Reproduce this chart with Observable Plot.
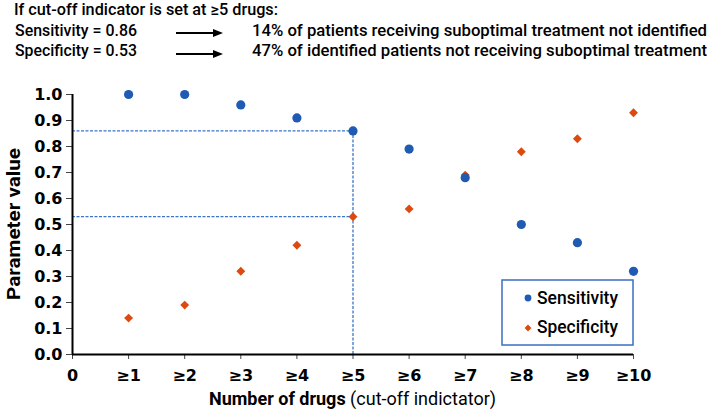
<!DOCTYPE html>
<html>
<head>
<meta charset="utf-8">
<script src="https://cdn.jsdelivr.net/npm/d3@7"></script>
<script src="https://cdn.jsdelivr.net/npm/@observablehq/plot@0.6"></script>
<style>
  html, body { margin: 0; padding: 0; background: #fff; }
  #wrap { width: 708px; height: 410px; position: relative; overflow: hidden; }
  svg { display: block; }
</style>
</head>
<body>
<div id="wrap"></div>
<script>
// ---- data ----
const xLabels = ["0", "≥1", "≥2", "≥3", "≥4", "≥5", "≥6", "≥7", "≥8", "≥9", "≥10"];
const cutoffs = [1, 2, 3, 4, 5, 6, 7, 8, 9, 10];
const sensitivity = [1.00, 1.00, 0.96, 0.91, 0.86, 0.79, 0.68, 0.50, 0.43, 0.32];
const specificity = [0.14, 0.19, 0.32, 0.42, 0.53, 0.56, 0.69, 0.78, 0.83, 0.93];
const yTicks = [0, 0.1, 0.2, 0.3, 0.4, 0.5, 0.6, 0.7, 0.8, 0.9, 1.0];
const xTicks = [0, 1, 2, 3, 4, 5, 6, 7, 8, 9, 10];
const chosenCutoff = 5;
const headerLines = [
  "If cut-off indicator is set at ≥5 drugs:",
  "Sensitivity = 0.86",
  "Specificity = 0.53",
  "14% of patients receiving suboptimal treatment not identified",
  "47% of identified patients not receiving suboptimal treatment"
];
const seriesNames = ["Sensitivity", "Specificity"];
const xTitleBold = "Number of drugs";
const xTitleRest = " (cut-off indictator)";
const yTitle = "Parameter value";

const BLUE = "#1f5bb3";
const ORANGE = "#dc4a0f";
const DASH = "#3c75c6";
const TXT = "Roboto, Lato, 'Open Sans', sans-serif";

const sensData = cutoffs.map((c, i) => ({x: c, y: sensitivity[i]}));
const specData = cutoffs.map((c, i) => ({x: c, y: specificity[i]}));
const ci = cutoffs.indexOf(chosenCutoff);
const hRefs = [
  {x1: 0, x2: chosenCutoff, y: sensitivity[ci]},
  {x1: 0, x2: chosenCutoff, y: specificity[ci]}
];
const vRefs = [{x: chosenCutoff, y1: 0, y2: sensitivity[ci]}];

const wrap = d3.select("#wrap");

// ---- header ----
const hdr = wrap.append("svg").attr("width", 708).attr("height", 66)
  .style("font-family", TXT).style("font-size", "16px").style("font-weight", 500);
function htext(x, y, s, len) {
  hdr.append("text").attr("x", x).attr("y", y).attr("textLength", len)
    .attr("text-anchor", "start")
    .attr("lengthAdjust", "spacingAndGlyphs").attr("fill", "#000").text(s);
}
htext(14, 15, headerLines[0], 264);
htext(15, 36, headerLines[1], 122);
htext(15, 56, headerLines[2], 122);
htext(252, 36, headerLines[3], 455);
htext(252, 56, headerLines[4], 455);
function arrow(y) {
  hdr.append("line").attr("x1", 176).attr("x2", 215).attr("y1", y).attr("y2", y)
    .attr("stroke", "#000").attr("stroke-width", 1.8);
  hdr.append("path").attr("d", `M213,${y - 4}L223,${y}L213,${y + 4}Z`).attr("fill", "#000");
}
arrow(33);
arrow(54);

// ---- chart ----
const chart = Plot.plot({
  width: 708,
  height: 344,
  marginTop: 28,
  marginBottom: 56,
  marginLeft: 72,
  marginRight: 75,
  style: {background: "#fff", color: "#000", overflow: "visible"},
  x: {domain: [0, 10]},
  y: {domain: [0, 1]},
  marks: [
    Plot.ruleY(hRefs, {x1: "x1", x2: "x2", y: "y", stroke: DASH, strokeWidth: 1.3, strokeDasharray: "3,1.5"}),
    Plot.ruleX(vRefs, {x: "x", y1: "y1", y2: "y2", stroke: DASH, strokeWidth: 1.3, strokeDasharray: "3,1.5"}),
    Plot.axisY({ticks: yTicks, tickFormat: d => d.toFixed(1), tickSize: 6, tickPadding: 4,
      fontSize: 16, fontWeight: "bold", fontFamily: "'DejaVu Sans', Verdana, sans-serif",
      label: null, stroke: "#444", fill: "#000"}),
    Plot.axisX({ticks: xTicks, tickFormat: i => xLabels[i], tickSize: 5, tickPadding: 10,
      fontSize: 16, fontWeight: "bold", fontFamily: "'DejaVu Sans', Verdana, sans-serif",
      label: null, stroke: "#444", fill: "#000"}),
    Plot.ruleX([0], {stroke: "#000", strokeWidth: 2}),
    Plot.ruleY([0], {stroke: "#000", strokeWidth: 2}),
    Plot.dot(specData, {x: "x", y: "y", symbol: "diamond2", r: 4, fill: ORANGE, stroke: "none"}),
    Plot.dot(sensData, {x: "x", y: "y", symbol: "circle", r: 4.6, fill: BLUE, stroke: "none"})
  ]
});
wrap.node().appendChild(chart);

const svg = d3.select(chart);
const sx = chart.scale("x"), sy = chart.scale("y");
const xMid = (sx.apply(0) + sx.apply(10)) / 2;
const yMid = (sy.apply(0) + sy.apply(1)) / 2;

// x title (bold + regular)
const xt = svg.append("text").attr("x", xMid).attr("y", 339).attr("text-anchor", "middle")
  .style("font-family", TXT).style("font-size", "18px").attr("fill", "#000");
xt.append("tspan").attr("font-weight", "bold").text(xTitleBold);
xt.append("tspan").attr("font-weight", "normal").text(xTitleRest);

// y title
svg.append("text").attr("transform", `translate(20,${yMid}) rotate(-90)`)
  .attr("text-anchor", "middle").style("font-family", TXT).style("font-size", "19px")
  .attr("font-weight", "bold").attr("fill", "#000")
  .attr("textLength", 152).attr("lengthAdjust", "spacingAndGlyphs").text(yTitle);

// legend
const lg = svg.append("g");
lg.append("rect").attr("x", 502).attr("y", 214).attr("width", 131).attr("height", 65)
  .attr("fill", "#fff").attr("stroke", "#3a6fc2").attr("stroke-width", 1.5);
lg.append("circle").attr("cx", 528).attr("cy", 232).attr("r", 3.4).attr("fill", BLUE);
lg.append("path").attr("d", d3.symbol(d3.symbolDiamond2, 30)()).attr("transform", "translate(528,262)").attr("fill", ORANGE);
[[seriesNames[0], 238], [seriesNames[1], 267]].forEach(([s, y]) => {
  lg.append("text").attr("x", 537).attr("y", y).attr("text-anchor", "start")
    .style("font-family", TXT).style("font-size", "18px").style("font-weight", 500)
    .attr("fill", "#000").attr("textLength", 81).attr("lengthAdjust", "spacingAndGlyphs").text(s);
});
</script>
</body>
</html>
